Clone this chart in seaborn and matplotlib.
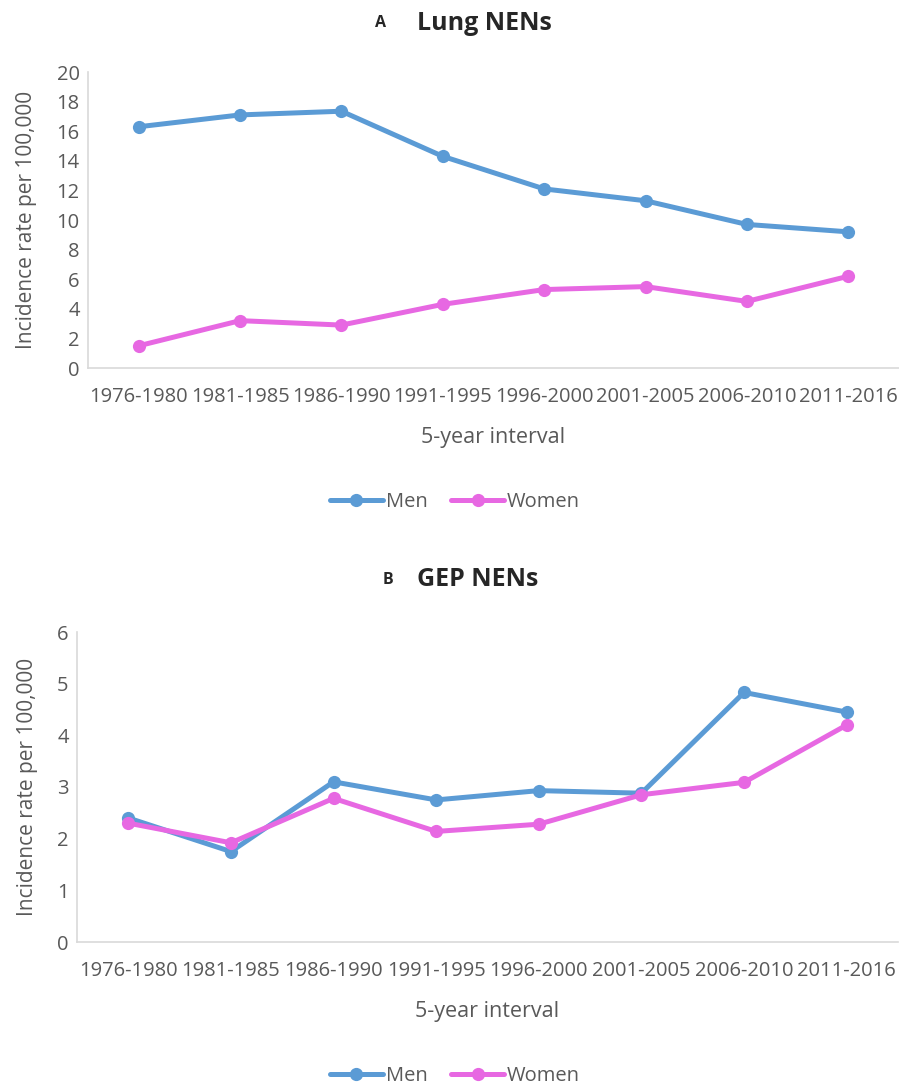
import pandas as pd
import numpy as np
import seaborn as sns
import matplotlib.pyplot as plt

# Incidence rates per 100,000 by 5-year interval
intervals = ["1976-1980", "1981-1985", "1986-1990", "1991-1995",
             "1996-2000", "2001-2005", "2006-2010", "2011-2016"]
lung_men = [16.3, 17.1, 17.35, 14.3, 12.1, 11.3, 9.7, 9.2]
lung_women = [1.5, 3.2, 2.9, 4.3, 5.3, 5.5, 4.5, 6.2]
gep_men = [2.4, 1.75, 3.1, 2.75, 2.93, 2.88, 4.83, 4.45]
gep_women = [2.3, 1.92, 2.78, 2.14, 2.28, 2.85, 3.09, 4.2]

sns.set_style("white")
plt.rcParams["font.family"] = ["Open Sans", "DejaVu Sans"]

palette = {"Men": "#5B9BD5", "Women": "#E768E2"}
grey = "#595959"


def long_df(men, women):
    return pd.DataFrame({
        "interval": intervals * 2,
        "pos": list(range(len(intervals))) * 2,
        "rate": men + women,
        "sex": ["Men"] * len(men) + ["Women"] * len(women),
    })


fig = plt.figure(figsize=(8.99, 10.88), dpi=100)
W, H = 899, 1088

panels = [
    # data, axes rect (px: left, top, right, bottom), ymax, step, letter, title, title y, letter x, legend y
    (long_df(lung_men, lung_women), (88, 72, 899, 368), 20, 2, "A", "Lung NENs", 23, 375, 502),
    (long_df(gep_men, gep_women), (77, 632, 898, 942), 6, 1, "B", "GEP NENs", 580, 383, 1076),
]

for df, (l, t, r, b), ymax, step, letter, title, ty, lx, ly in panels:
    ax = fig.add_axes([l / W, 1 - b / H, (r - l) / W, (b - t) / H])
    sns.lineplot(data=df, x="pos", y="rate", hue="sex", palette=palette,
                 marker="o", markersize=9.5, linewidth=3.6, markeredgewidth=0,
                 ax=ax, legend=True)
    ax.set_xlim(-0.5, len(intervals) - 0.5)
    ax.set_ylim(0, ymax)
    ax.set_yticks(np.arange(0, ymax + step, step))
    ax.set_xticks(range(len(intervals)))
    ax.set_xticklabels(intervals)
    ax.tick_params(axis="both", length=0, labelsize=14.5, colors=grey)
    ax.tick_params(axis="x", pad=14)
    ax.tick_params(axis="y", pad=6)
    ax.set_xlabel("5-year interval", fontsize=15.5, color=grey, labelpad=14)
    ax.set_ylabel("Incidence rate per 100,000", fontsize=15, color=grey, labelpad=14)
    for s in ["top", "right"]:
        ax.spines[s].set_visible(False)
    for s in ["left", "bottom"]:
        ax.spines[s].set_color("#D9D9D9")
        ax.spines[s].set_linewidth(1.2)

    handles, labels = ax.get_legend_handles_labels()
    ax.get_legend().remove()
    fig.legend(handles, labels, loc="center", bbox_to_anchor=(455 / W, 1 - ly / H),
               ncol=2, frameon=False, fontsize=14.5, labelcolor=grey,
               handlelength=2.6, handletextpad=0.15, columnspacing=1.2)

    fig.text(lx / W, 1 - ty / H, letter, fontsize=11.5, fontweight="bold",
             ha="left", va="center")
    fig.text(417 / W, 1 - ty / H, title, fontsize=18, fontweight="bold",
             ha="left", va="center")

fig.savefig("out.png", dpi=100)
